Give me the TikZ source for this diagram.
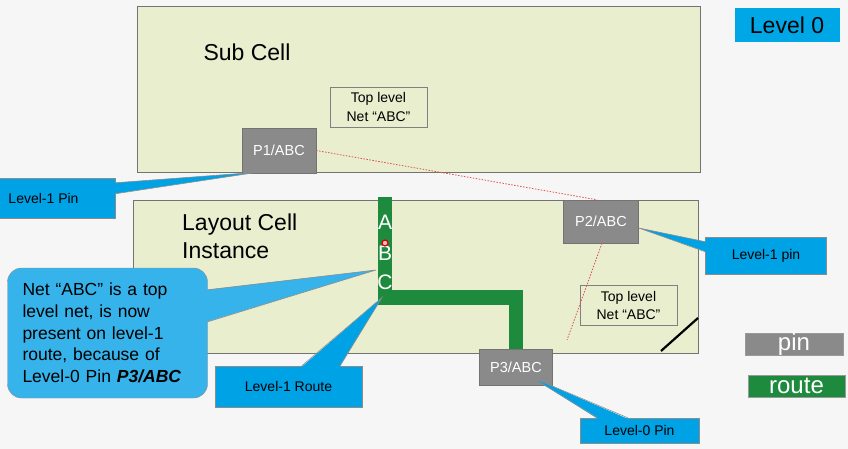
\documentclass[tikz,border=0pt]{standalone}
\usepackage{fontspec}
\setmainfont{Liberation Sans}
\usetikzlibrary{calc}

\definecolor{pagebg}{HTML}{F6F6F6}
\definecolor{cellbg}{HTML}{E9EECF}
\definecolor{pingray}{HTML}{8A8A8A}
\definecolor{routegreen}{HTML}{1E8A3E}
\definecolor{tagblue}{HTML}{00A2E6}
\definecolor{noteblue}{HTML}{36B3EA}
\definecolor{netred}{HTML}{E05050}

\begin{document}
\begin{tikzpicture}[x=1pt,y=-1pt,
  cell/.style={draw=black!55,fill=cellbg,line width=1pt,inner sep=0pt},
  title/.style={font=\fontsize{23}{27.7}\selectfont,inner sep=0pt},
  netbox/.style={draw=black!50,line width=0.8pt,align=center,inner sep=0pt,
    minimum width=97pt,minimum height=40pt,font=\fontsize{14}{18.3}\selectfont},
  pinbox/.style={draw=black!55,fill=pingray,text=white,inner sep=0pt,
    font=\fontsize{14.5}{16}\selectfont},
  route/.style={draw=routegreen,line width=14.5pt,line join=miter},
  routeletter/.style={text=white,inner sep=0pt,font=\fontsize{21}{21}\selectfont},
  netline/.style={draw=netred,dash pattern=on 1.5pt off 1.5pt,line width=0.8pt},
  tag/.style={draw=black!45,fill=tagblue,inner sep=0pt,font=\fontsize{14}{16}\selectfont},
  wedge/.style={fill=tagblue},
  wedgeedge/.style={draw=black!45,line width=0.6pt},
  legend/.style={draw=black!40,text=white,inner sep=0pt,font=\fontsize{24}{24}\selectfont}
]
% page
\fill[pagebg] (0,0) rectangle (848,449);
\useasboundingbox (0,0) rectangle (848,449);

% cells
\node[cell,minimum width=563pt,minimum height=166pt] (subcell) at (418.5,90) {};
\node[title] (subtitle) at (247,52) {Sub Cell};
\node[netbox] (topnetA) at (378.5,107) {Top level\\Net “ABC”};
\node[cell,minimum width=565pt,minimum height=153pt] (layout) at (415.5,276.5) {};
\node[title,align=left,anchor=west] (layouttitle) at (182,236) {Layout Cell\\Instance};
\node[netbox] (topnetB) at (628.5,305.5) {Top level\\Net “ABC”};

% pins
\node[pinbox,minimum width=74pt,minimum height=45pt] (p1) at (279,150.5) {P1/ABC};
\node[pinbox,minimum width=75pt,minimum height=43pt] (p2) at (601,221.5) {P2/ABC};
\node[pinbox,minimum width=73pt,minimum height=36pt] (p3) at (516,367.5) {P3/ABC};

% level-1 route
\coordinate (rtop) at (385,197);
\coordinate (rbend) at (385,297.5);
\draw[route] (rtop) -- (rbend) -| (p3.north);
\foreach \letter/\ypos in {A/222,B/253,C/282}
  \node[routeletter] (letter\letter) at (385,\ypos) {\letter};
\node[circle,draw=red!85!black,fill=red!25,line width=1.2pt,inner sep=0pt,minimum size=6pt] (marker) at (385,243) {};

% net "ABC"
\draw[netline] (p1.east) -- ($(p2.north)+(-4,0)$);
\coordinate (netend) at (567,340);
\draw[netline] ($(p2.south)+(1,0)$) -- (netend);

\coordinate (cutA) at (661,351);
\coordinate (cutB) at (698,318);
\draw[line width=2.2pt] (cutA) -- (cutB);

% callouts
\node[tag,minimum width=143pt,minimum height=40pt] (pintagL) at (43.5,198) {Level-1 Pin};
\fill[wedge] ($(pintagL.north east)+(-1,5)$) -- ($(p1.south west)+(16,-1)$) -- ($(pintagL.north east)+(-1,16)$) -- cycle;
\draw[wedgeedge] ($(pintagL.north east)+(0,5)$) -- ($(p1.south west)+(16,-1)$) -- ($(pintagL.north east)+(0,16)$);

\node[tag,minimum width=121pt,minimum height=37pt] (pintagR) at (766,255.5) {Level-1 pin};
\fill[wedge] ($(pintagR.north west)+(1,5)$) -- ($(p2.east)+(0,6.5)$) -- ($(pintagR.north west)+(1,15)$) -- cycle;
\draw[wedgeedge] ($(pintagR.north west)+(0,5)$) -- ($(p2.east)+(0,6.5)$) -- ($(pintagR.north west)+(0,15)$);

\node[tag,minimum width=119pt,minimum height=25pt] (l0tag) at (639.5,430.5) {Level-0 Pin};
\fill[wedge] ($(l0tag.north west)+(18,1)$) -- ($(p3.center)+(16,10)$) -- ($(l0tag.north west)+(48,1)$) -- cycle;
\draw[wedgeedge] ($(l0tag.north west)+(18,0)$) -- ($(p3.center)+(16,10)$) -- ($(l0tag.north west)+(48,0)$);

\node[tag,minimum width=147pt,minimum height=41pt] (routetag) at (288.5,386.5) {Level-1 Route};
\fill[wedge] ($(routetag.north west)+(87,1)$) -- ($(rbend)+(-3,0)$) -- ($(routetag.north west)+(125,1)$) -- cycle;
\draw[wedgeedge] ($(routetag.north west)+(87,0)$) -- ($(rbend)+(-3,0)$) -- ($(routetag.north west)+(125,0)$);

\node[draw=black!45,fill=noteblue,rounded corners=14pt,minimum width=200pt,minimum height=130pt,
  text width=170pt,inner xsep=15pt,inner ysep=0pt,align=left,
  font=\fontsize{17.5}{21.7}\selectfont] (note) at (107.5,333)
  {Net “ABC” is a top\\level net, is now\\present on level-1\\route, because of\\Level-0 Pin \textbf{\textit{P3/ABC}}};
\coordinate (notetip) at (376,270);
\fill[noteblue] ($(note.north east)+(-1,22)$) -- (notetip) -- ($(note.north east)+(-1,54)$) -- cycle;
\draw[wedgeedge] ($(note.north east)+(0,22)$) -- (notetip) -- ($(note.north east)+(0,54)$);

% level and legend
\node[fill=tagblue!95!cyan,minimum width=105pt,minimum height=34pt,inner sep=0pt,
  font=\fontsize{23}{23}\selectfont] (level) at (787,25.5) {Level 0};
\node[legend,fill=pingray,minimum width=98pt,minimum height=22pt] (legendpin) at (794,344) {pin};
\node[legend,fill=routegreen,minimum width=97pt,minimum height=22pt] (legendroute) at (796.5,386) {route};
\end{tikzpicture}
\end{document}
